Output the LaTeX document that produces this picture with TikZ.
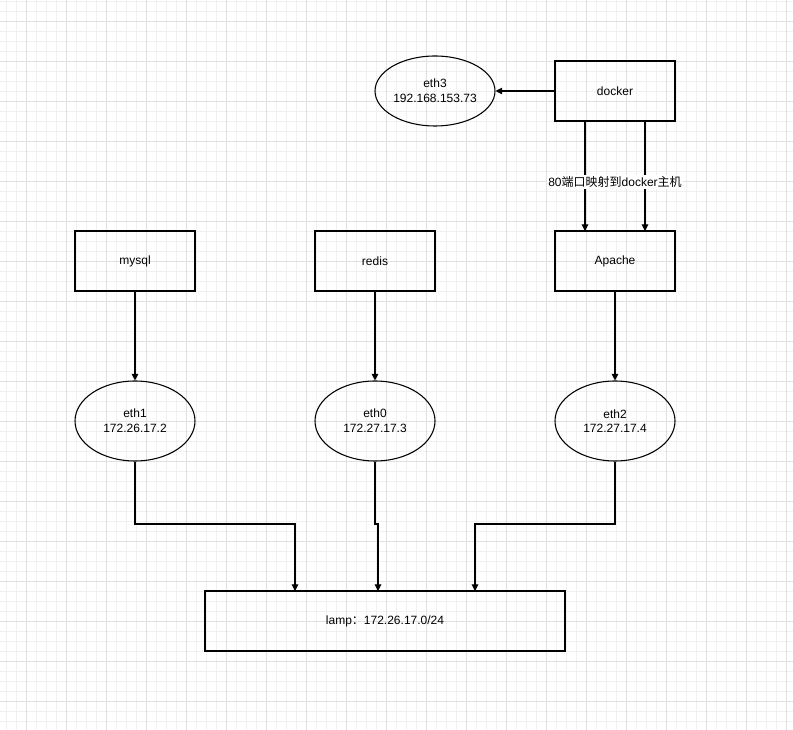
\documentclass[tikz,border=0pt]{standalone}
\usepackage{fontspec}
\setmainfont{Liberation Sans}
\newfontfamily\cjk{Noto Sans CJK SC}
\usetikzlibrary{shapes.geometric,arrows.meta}
\begin{document}
\begin{tikzpicture}[x=0.75pt,y=-0.75pt,
  box/.style={draw,thick,minimum width=90pt,minimum height=45pt,inner sep=0,font=\fontsize{9}{11}\selectfont,align=center},
  ell/.style={draw,thick,ellipse,minimum width=90pt,minimum height=60pt,inner sep=0,font=\fontsize{9}{11}\selectfont,align=center},
  arr/.style={draw,thick,-{Triangle[length=5pt,width=5pt]}},
  every node/.style={font=\fontsize{9}{11}\selectfont}]
\useasboundingbox (0,0) rectangle (793,730);
\fill[white] (0,0) rectangle (793,730);
\foreach \i in {6,16,...,793} \draw[black!6,line width=0.5pt] (\i,0) -- (\i,730);
\foreach \i in {1,11,...,730} \draw[black!6,line width=0.5pt] (0,\i) -- (793,\i);
\foreach \i in {26,66,...,793} \draw[black!12,line width=0.6pt] (\i,0) -- (\i,730);
\foreach \i in {21,61,...,730} \draw[black!12,line width=0.6pt] (0,\i) -- (793,\i);
\node[ell,minimum height=52.5pt] (eth3) at (435,91) {eth3\\192.168.153.73};
\node[box] (docker) at (615,91) {docker};
\node[box] (mysql) at (135,261) {mysql};
\node[box] (redis) at (375,261) {redis};
\node[box] (apache) at (615,261) {Apache};
\node[ell] (eth1) at (135,421) {eth1\\172.26.17.2};
\node[ell] (eth0) at (375,421) {eth0\\172.27.17.3};
\node[ell] (eth2) at (615,421) {eth2\\172.27.17.4};
\node[box,minimum width=270pt] (lamp) at (385,621) {lamp{\cjk ：}172.26.17.0/24};
\coordinate (d1) at (585,121); \coordinate (d2) at (645,121);
\coordinate (a1) at (585,231); \coordinate (a2) at (645,231);
\path[arr] (docker) -- (eth3);
\path[arr] (d1) -- (a1);
\path[arr] (d2) -- (a2);
\node[fill=white,inner sep=1pt] (lbl) at (615,182) {80{\cjk 端口映射到}docker{\cjk 主机}};
\path[arr] (mysql) -- (eth1);
\path[arr] (redis) -- (eth0);
\path[arr] (apache) -- (eth2);
\coordinate (l1) at (295,591); \coordinate (l2) at (378,591); \coordinate (l3) at (475,591);
\path[arr] (eth1.south) |- (295,524) -- (l1);
\path[arr] (eth0.south) -- (375,524) -- (378,524) -- (l2);
\path[arr] (eth2.south) |- (475,524) -- (l3);
\end{tikzpicture}
\end{document}
